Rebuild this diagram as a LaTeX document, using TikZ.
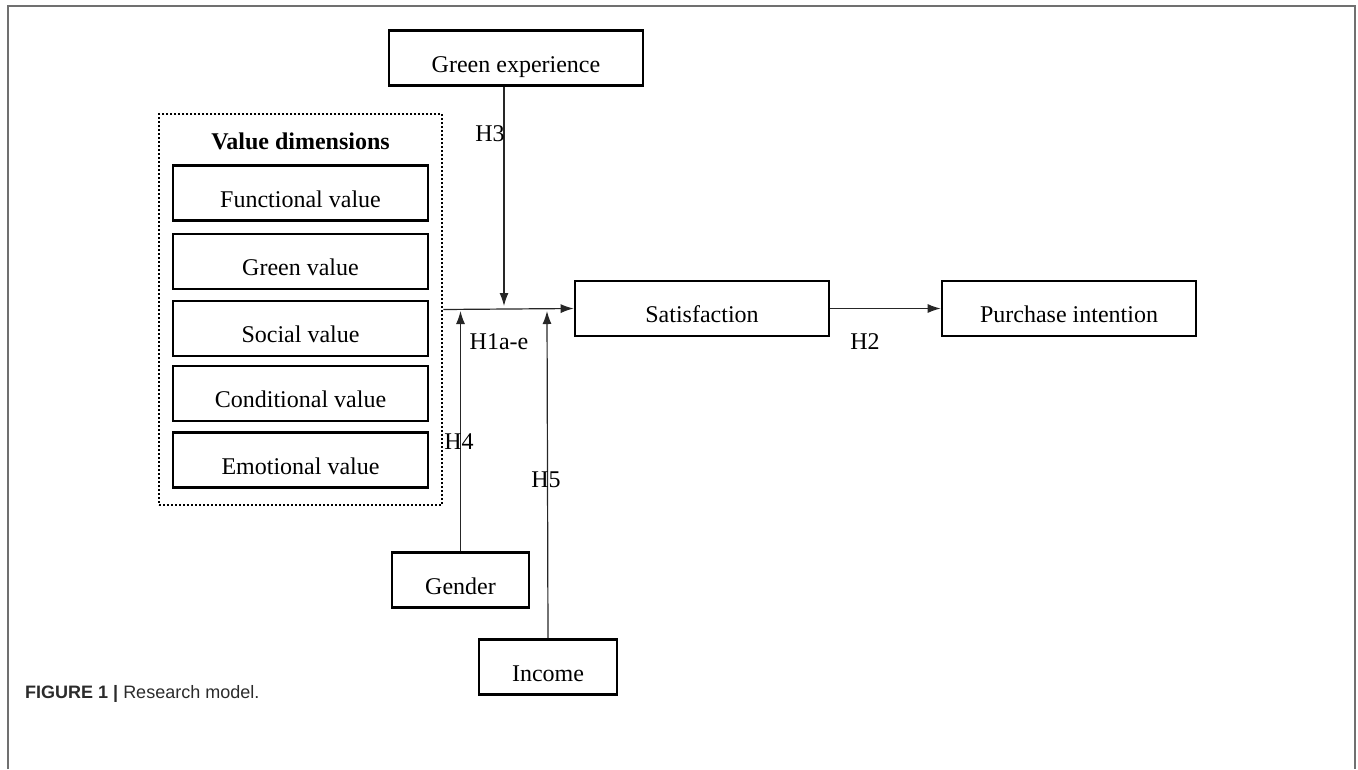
\documentclass[tikz,border=0pt]{standalone}
\usepackage{fontspec}
\setmainfont{Liberation Serif}
\newfontfamily\capfont{Liberation Sans}
\usetikzlibrary{arrows.meta}
\definecolor{framegray}{HTML}{707070}
\definecolor{capgray}{HTML}{2B2B2B}
\tikzset{
  box/.style={draw, line width=2.6pt, inner sep=0pt, minimum width=#1, minimum height=55pt,
    text height=28pt, text depth=0pt, font=\fontsize{24}{28}\selectfont},
  box/.default=254pt,
  lbl/.style={inner sep=0pt, font=\fontsize{24}{28}\selectfont},
  arr/.style={line width=1.2pt, draw=black!85, -{Latex[length=13pt,width=9pt]}},
}
\begin{document}
\begin{tikzpicture}[x=1pt,y=-1pt]
\useasboundingbox (0,0) rectangle (1358,769);
% outer frame
\draw[framegray, line width=1.6pt] (8,769) -- (8,6) -- (1355,6) -- (1355,769);

% value dimensions group
\node[draw, line width=2.6pt, dash pattern=on 2pt off 2pt, inner sep=0pt,
  minimum width=283pt, minimum height=391pt] (vd) at (300.5,309.5) {};
\node[lbl, font=\fontsize{24}{28}\selectfont\bfseries] (vdt) at (300.5,141) {Value dimensions};
\node[box=255pt] (fv) at (300.5,193) {Functional value};
\node[box=255pt] (gv) at (300.5,261.5) {Green value};
\node[box=255pt] (sv) at (300.5,328.5) {Social value};
\node[box=255pt] (cv) at (300.5,393.5) {Conditional value};
\node[box=255pt] (ev) at (300.5,460) {Emotional value};

% other constructs
\node[box=254pt] (ge) at (516,58) {Green experience};
\node[box=254pt] (sat) at (702,308.5) {Satisfaction};
\node[box=254pt] (pi) at (1069,308.5) {Purchase intention};
\node[box=137pt] (gen) at (460.5,580) {Gender};
\node[box=138pt] (inc) at (548,667) {Income};

% junction coordinates on the main path
\coordinate (m1) at (504,306);
\coordinate (m2) at (460.5,311);
\coordinate (m3) at (547,311);

% connectors
\draw[arr] (vd.east) -- (sat.west);
\draw[arr] (ge.south -| m1) -- (m1);
\draw[arr] (gen.north) -- (m2);
\draw[arr] (inc.north) -- (m3);
\draw[arr] (sat.east) -- (pi.west);

% hypothesis labels
\node[lbl] (h3) at (490,134) {H3};
\node[lbl] (h1) at (499,342) {H1a-e};
\node[lbl] (h2) at (865,342) {H2};
\node[lbl] (h4) at (459,442) {H4};
\node[lbl] (h5) at (546,480) {H5};

% caption
\node[anchor=base west, inner sep=0pt, text=capgray, font=\capfont\fontsize{18}{22}\selectfont]
  (cap) at (25,698) {\textbf{FIGURE 1 |} Research model.};
\end{tikzpicture}
\end{document}
